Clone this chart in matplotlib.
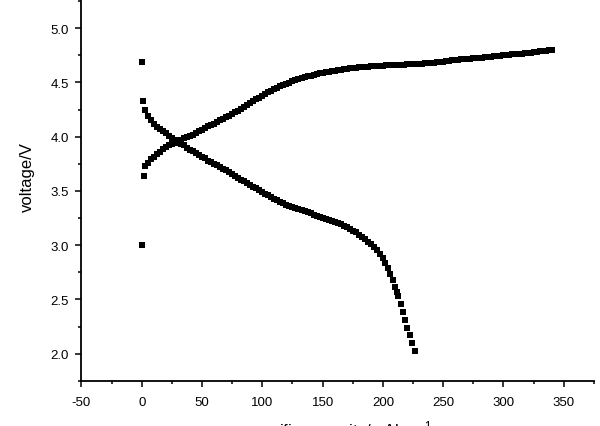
import matplotlib
matplotlib.use("Agg")
import matplotlib.pyplot as plt
from matplotlib.ticker import MultipleLocator

plt.rcParams['font.family'] = ['Liberation Sans', 'DejaVu Sans']
plt.rcParams['mathtext.fontset'] = 'custom'
plt.rcParams['mathtext.rm'] = 'Liberation Sans'
plt.rcParams['mathtext.it'] = 'Liberation Sans:italic'
plt.rcParams['axes.unicode_minus'] = False

# Discharge curve (capacity, voltage)
discharge_cap = [0, 1, 2.5, 5, 7.5, 10, 12.5, 15, 17.5, 20, 22.5, 25, 27.5, 30,
                 32.5, 35, 37.5, 40, 42.5, 45, 47.5, 50, 52.5, 55, 57.5, 60,
                 62.5, 65, 67.5, 70, 72.5, 75, 77.5, 80, 82.5, 85, 87.5, 90,
                 92.5, 95, 97.5, 100, 102.5, 105, 107.5, 110, 112.5, 115, 117.5,
                 120, 122.5, 125, 127.5, 130, 132.5, 135, 137.5, 140, 142.5, 145,
                 147.5, 150, 152.5, 155, 157.5, 160, 162.5, 165, 167.5, 170, 172.5,
                 175, 177.5, 180, 182.5, 185, 187.5, 190, 192.5, 195, 197.5, 200,
                 202, 204, 206, 208, 210, 211.5, 212.9, 214.8, 216.7, 218.5, 220.3,
                 222.2, 224.3, 226.5]
discharge_volt = [4.69, 4.33, 4.25, 4.19, 4.15, 4.12, 4.09, 4.07, 4.05, 4.03, 4.01,
                  3.99, 3.97, 3.95, 3.935, 3.92, 3.90, 3.88, 3.865, 3.85, 3.83, 3.815,
                  3.80, 3.78, 3.765, 3.75, 3.735, 3.72, 3.705, 3.69, 3.67, 3.655, 3.64,
                  3.62, 3.605, 3.59, 3.575, 3.555, 3.54, 3.525, 3.51, 3.49, 3.475,
                  3.46, 3.443, 3.427, 3.412, 3.398, 3.386, 3.374, 3.363, 3.352, 3.342,
                  3.332, 3.322, 3.312, 3.302, 3.292, 3.282, 3.272, 3.262, 3.252, 3.243,
                  3.234, 3.225, 3.215, 3.204, 3.192, 3.18, 3.166, 3.151, 3.135, 3.117,
                  3.098, 3.077, 3.055, 3.032, 3.008, 2.983, 2.955, 2.922, 2.885, 2.84,
                  2.785, 2.73, 2.675, 2.615, 2.57, 2.53, 2.455, 2.38, 2.31, 2.24, 2.17,
                  2.10, 2.024]

# Charge curve (capacity, voltage)
charge_cap = [0, 1.5, 3, 5, 7.5, 10, 12.5, 15, 17.5, 20, 22.5, 25, 27.5, 30, 32.5,
              35, 37.5, 40, 42.5, 45, 47.5, 50, 52.5, 55, 57.5, 60, 62.5, 65, 67.5,
              70, 72.5, 75, 77.5, 80, 82.5, 85, 87.5, 90, 92.5, 95, 97.5, 100, 102.5,
              105, 107.5, 110, 112.5, 115, 117.5, 120, 122.5, 125, 127.5, 130, 132.5,
              135, 137.5, 140, 142.5, 145, 147.5, 150, 152.5, 155, 157.5, 160, 162.5,
              165, 167.5, 170, 172.5, 175, 177.5, 180, 182.5, 185, 187.5, 190, 192.5,
              195, 197.5, 200, 202.5, 205, 207.5, 210, 212.5, 215, 217.5, 220, 222.5,
              225, 227.5, 230, 232.5, 235, 237.5, 240, 242.5, 245, 247.5, 250, 252.5,
              255, 257.5, 260, 262.5, 265, 267.5, 270, 272.5, 275, 277.5, 280, 282.5,
              285, 287.5, 290, 292.5, 295, 297.5, 300, 302.5, 305, 307.5, 310, 312.5,
              315, 317.5, 320, 322.5, 325, 327.5, 330, 332.5, 335, 337.5, 340]
charge_volt = [3.00, 3.64, 3.73, 3.76, 3.79, 3.815, 3.84, 3.86, 3.885, 3.905, 3.92,
               3.935, 3.945, 3.955, 3.97, 3.985, 3.995, 4.01, 4.02, 4.035, 4.05, 4.065,
               4.08, 4.095, 4.105, 4.12, 4.135, 4.15, 4.165, 4.18, 4.195, 4.21, 4.225,
               4.24, 4.26, 4.275, 4.29, 4.31, 4.325, 4.345, 4.36, 4.378, 4.393, 4.408,
               4.422, 4.436, 4.45, 4.463, 4.476, 4.488, 4.499, 4.51, 4.52, 4.53, 4.539,
               4.548, 4.556, 4.564, 4.571, 4.578, 4.584, 4.59, 4.595, 4.60, 4.605, 4.61,
               4.614, 4.618, 4.622, 4.626, 4.63, 4.633, 4.636, 4.639, 4.642, 4.644, 4.646,
               4.648, 4.65, 4.652, 4.654, 4.656, 4.657, 4.659, 4.66, 4.661, 4.662,
               4.664, 4.665, 4.666, 4.668, 4.669, 4.67, 4.672, 4.674, 4.676, 4.679,
               4.682, 4.684, 4.687, 4.69, 4.693, 4.697, 4.70, 4.703, 4.706, 4.709,
               4.712, 4.714, 4.717, 4.72, 4.722, 4.725, 4.727, 4.73, 4.733, 4.736,
               4.739, 4.742, 4.745, 4.748, 4.75, 4.753, 4.756, 4.758, 4.761, 4.764,
               4.767, 4.77, 4.773, 4.776, 4.779, 4.782, 4.786, 4.79, 4.794, 4.798, 4.80]

fig = plt.figure(figsize=(6.0, 4.27), dpi=100)
ax = fig.add_axes([0.1358, 0.106, 0.854, 0.889])

ax.plot(discharge_cap, discharge_volt, linestyle='none', marker='s',
        markersize=5.0, color='black', markeredgewidth=0)
ax.plot(charge_cap, charge_volt, linestyle='none', marker='s',
        markersize=5.0, color='black', markeredgewidth=0)

ax.set_xlim(-50, 375)
ax.set_ylim(1.75, 5.25)
ax.xaxis.set_major_locator(MultipleLocator(50))
ax.xaxis.set_minor_locator(MultipleLocator(25))
ax.yaxis.set_major_locator(MultipleLocator(0.5))
ax.yaxis.set_minor_locator(MultipleLocator(0.25))
ax.yaxis.set_major_formatter(plt.FormatStrFormatter('%.1f'))

for side in ['top', 'right']:
    ax.spines[side].set_visible(False)
for side in ['left', 'bottom']:
    ax.spines[side].set_linewidth(1.3)

ax.tick_params(which='major', direction='out', length=4, width=1.1,
               labelsize=9.5, color='black')
ax.tick_params(which='minor', direction='out', length=2.5, width=1.1)
ax.tick_params(axis='x', which='major', pad=7)
ax.tick_params(axis='y', which='major', pad=5)

fig.text(27 / 600, 1 - 177 / 427, 'voltage/V', rotation=90, fontsize=12,
         ha='center', va='center')
fig.text(338 / 600, 1 - 419 / 427, 'specific capacity/mAh g$^{-1}$',
         fontsize=12, ha='center', va='top')

fig.savefig('out.png', dpi=100)
